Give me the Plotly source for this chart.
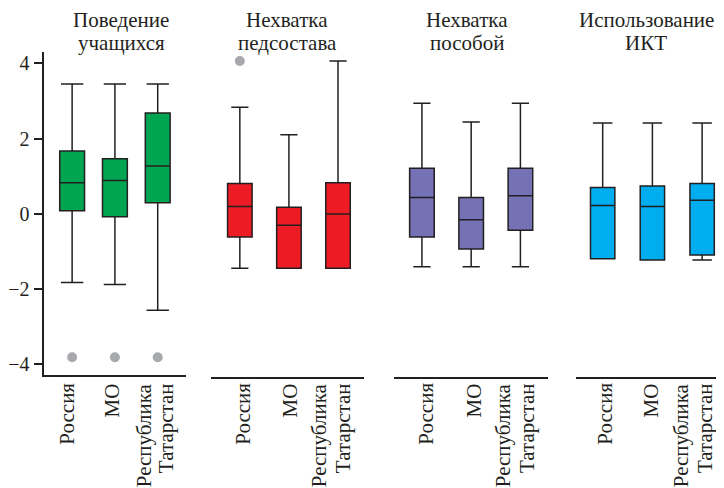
import plotly.graph_objects as go

categories = ["Россия", "МО", ["Республика", "Татарстан"]]
panel_titles = [["Поведение", "учащихся"], ["Нехватка", "педсостава"],
                ["Нехватка", "пособой"], ["Использование", "ИКТ"]]

# Per panel: lowerfence, q1, median, q3, upperfence for [Россия, МО, Татарстан]
behav_lo = [-1.83, -1.88, -2.57]
behav_q1 = [0.08, -0.08, 0.29]
behav_med = [0.82, 0.88, 1.27]
behav_q3 = [1.67, 1.46, 2.68]
behav_hi = [3.45, 3.45, 3.45]
behav_out = [-3.82, -3.82, -3.82]

staff_lo = [-1.45, -1.45, -1.45]
staff_q1 = [-0.62, -1.45, -1.45]
staff_med = [0.19, -0.31, -0.01]
staff_q3 = [0.80, 0.17, 0.82]
staff_hi = [2.83, 2.10, 4.06]
staff_out = [4.06, None, None]

books_lo = [-1.41, -1.41, -1.41]
books_q1 = [-0.62, -0.94, -0.44]
books_med = [0.43, -0.16, 0.48]
books_q3 = [1.21, 0.43, 1.21]
books_hi = [2.94, 2.44, 2.94]
books_out = [None, None, None]

ict_lo = [-1.20, -1.23, -1.23]
ict_q1 = [-1.20, -1.23, -1.10]
ict_med = [0.22, 0.19, 0.36]
ict_q3 = [0.70, 0.74, 0.80]
ict_hi = [2.41, 2.41, 2.41]
ict_out = [None, None, None]

y_ticks = [-4, -2, 0, 2, 4]

panels = [
    (behav_lo, behav_q1, behav_med, behav_q3, behav_hi, behav_out, "#00A551"),
    (staff_lo, staff_q1, staff_med, staff_q3, staff_hi, staff_out, "#ED1C24"),
    (books_lo, books_q1, books_med, books_q3, books_hi, books_out, "#7571B5"),
    (ict_lo, ict_q1, ict_med, ict_q3, ict_hi, ict_out, "#00AEEF"),
]

# page body has an 8px margin: figure is drawn in reference pixel coords minus 8
OFF = 8
W, H = 724 - OFF, 488 - OFF


def px(X):
    return (X - OFF) / W


def py(Y):
    return 1 - (Y - OFF) / H


Y0, PPU = 213.7, 37.6          # pixel of y=0, pixels per unit
TOP = 52
bottoms = [375, 376.5, 376.5, 376.5]
domains_px = [(40.5, 182.5), (208, 362), (392.5, 547), (575, 724)]
xranges = [(-0.65, 2.65), (-0.59, 2.53), (-0.56, 2.56), (-0.54, 2.44)]
box_widths = [0.58, 0.5, 0.5, 0.49]
whisk = [0.9, 0.7, 0.7, 0.8]
title_x = [118, 285, 466, 646]
label_x = [[63, 109, (141, 163)], [240, 288, (317, 341)],
           [424, 473, (502, 526)], [604, 651, (681, 705)]]

FONT = "Liberation Serif, Times New Roman, serif"
LINE = "#231F20"

fig = go.Figure()
xs = [0, 1, 2]
for i, (lo, q1, med, q3, hi, out, col) in enumerate(panels):
    xa = "x" if i == 0 else f"x{i+1}"
    ya = "y" if i == 0 else f"y{i+1}"
    fig.add_trace(go.Box(
        x=xs, lowerfence=lo, q1=q1, median=med, q3=q3, upperfence=hi,
        fillcolor=col, line=dict(color=LINE, width=1.5),
        width=box_widths[i], whiskerwidth=whisk[i], boxpoints=False,
        xaxis=xa, yaxis=ya, showlegend=False, hoverinfo="skip",
    ))
    ox = [x for x, v in zip(xs, out) if v is not None]
    oy = [v for v in out if v is not None]
    if oy:
        fig.add_trace(go.Scatter(
            x=ox, y=oy, mode="markers",
            marker=dict(color="#A7A9AC", size=10),
            xaxis=xa, yaxis=ya, showlegend=False, hoverinfo="skip",
        ))

layout = dict(
    width=W, height=H,
    margin=dict(l=0, r=0, t=0, b=0, pad=0),
    paper_bgcolor="white", plot_bgcolor="white",
    font=dict(family=FONT, size=20, color=LINE),
)
for i in range(4):
    xk = "xaxis" if i == 0 else f"xaxis{i+1}"
    yk = "yaxis" if i == 0 else f"yaxis{i+1}"
    d0, d1 = domains_px[i]
    layout[xk] = dict(
        domain=[px(d0), min(px(d1), 1)], range=list(xranges[i]),
        tickvals=xs, showticklabels=False,
        showline=True, linecolor=LINE, linewidth=1.5, ticks="",
        showgrid=False, zeroline=False,
        anchor="y" if i == 0 else f"y{i+1}",
    )
    b = bottoms[i]
    ydict = dict(
        domain=[py(b), py(TOP)],
        range=[(Y0 - b) / PPU, (Y0 - TOP) / PPU],
        showgrid=False, zeroline=False,
        anchor="x" if i == 0 else f"x{i+1}",
    )
    if i == 0:
        ydict.update(showline=True, linecolor=LINE, linewidth=1.5,
                     tickvals=y_ticks, ticks="outside", ticklen=9, tickwidth=1.5,
                     tickcolor=LINE, tickfont=dict(family=FONT, size=20, color=LINE))
    else:
        ydict.update(showline=False, showticklabels=False, ticks="")
    layout[yk] = ydict

annotations = []
for i, (l1, l2) in enumerate(panel_titles):
    for txt, yb in ((l1, 27), (l2, 49.5)):
        annotations.append(dict(
            text=txt, xref="paper", yref="paper", x=px(title_x[i]), y=py(yb - 7),
            xanchor="center", yanchor="middle", showarrow=False,
            font=dict(family=FONT, size=21, color=LINE),
        ))
    for j, cat in enumerate(categories):
        if isinstance(cat, list):
            pairs = list(zip(cat, label_x[i][j]))
        else:
            pairs = [(cat, label_x[i][j])]
        for txt, lx in pairs:
            annotations.append(dict(
                text=txt, xref="paper", yref="paper", x=px(lx), y=py(381),
                xanchor="center", yanchor="top", textangle=-90, showarrow=False,
                font=dict(family=FONT, size=21, color=LINE),
            ))
layout["annotations"] = annotations
fig.update_layout(**layout)
fig.write_html("out.html")
